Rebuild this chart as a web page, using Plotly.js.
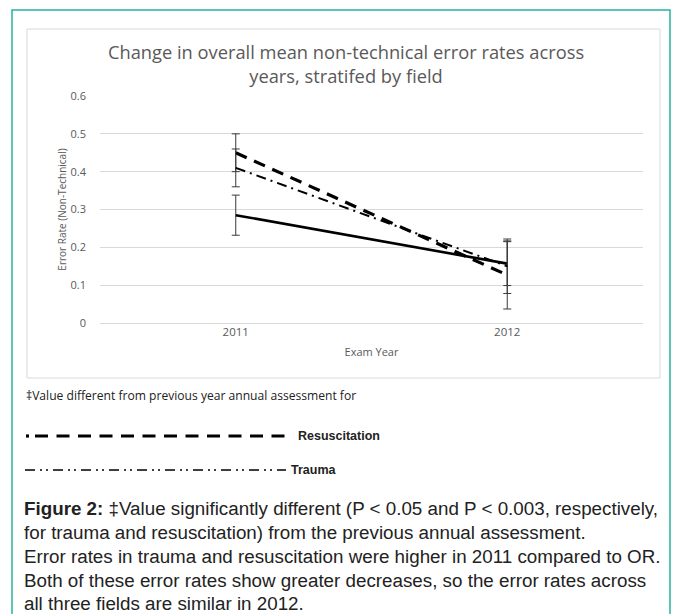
<!DOCTYPE html>
<html>
<head>
<meta charset="utf-8">
<script src="https://cdn.plot.ly/plotly-3.0.1.min.js"></script>
<style>
html,body{margin:0;padding:0;background:#fff;}
#chart{width:677px;height:614px;}
</style>
</head>
<body>
<div id="chart"></div>
<script>
// ---- data ----
const years = ["2011", "2012"];
const orRate = [0.285, 0.157];
const orErr = [0.053, 0.058];
const resusRate = [0.45, 0.127];
const resusErr = [0.05, 0.09];
const traumaRate = [0.41, 0.15];
const traumaErr = [0.05, 0.072];
const yTicks = [0, 0.1, 0.2, 0.3, 0.4, 0.5, 0.6];
const yTickText = ["0", "0.1", "0.2", "0.3", "0.4", "0.5", "0.6"];

const chartTitle = "Change in overall mean non-technical error rates across<br>years, stratifed by field";
const noteText = "‡Value different from previous year annual assessment for";
const captionLines = [
  "<b>Figure 2:</b> ‡Value significantly different (P &lt; 0.05 and P &lt; 0.003, respectively,",
  "for trauma and resuscitation) from the previous annual assessment.",
  "Error rates in trauma and resuscitation were higher in 2011 compared to OR.",
  "Both of these error rates show greater decreases, so the error rates across",
  "all three fields are similar in 2012."
];

// ---- layout geometry (pixels) ----
const W = 677, H = 614;
const L = 100, R = 643, T = 96, B = 323;
const px = p => (p - L) / (R - L);
const py = p => 1 - (p - T) / (B - T);

const errStyle = {type: 'data', visible: true, color: '#3a3a3a', thickness: 1, width: 4};

const traces = [
  {x: years, y: orRate, name: 'OR', type: 'scatter', mode: 'lines',
   line: {color: '#000', width: 2.6},
   error_y: Object.assign({array: orErr}, errStyle)},
  {x: years, y: resusRate, name: 'Resuscitation', type: 'scatter', mode: 'lines',
   line: {color: '#000', width: 3.2, dash: '12px,8px'},
   error_y: Object.assign({array: resusErr}, errStyle)},
  {x: years, y: traumaRate, name: 'Trauma', type: 'scatter', mode: 'lines',
   line: {color: '#000', width: 2, dash: '10px,5px,2px,5px'},
   error_y: Object.assign({array: traumaErr}, errStyle)}
];

const gray = '#595959';
const annotations = [
  {xref: 'x', yref: 'y', x: years[1], y: 0.252, text: '‡', showarrow: false,
   font: {family: 'DejaVu Sans', size: 9, color: '#333'}},
  {xref: 'paper', yref: 'paper', x: px(24), y: py(395), xanchor: 'left', yanchor: 'middle',
   text: noteText, showarrow: false, font: {family: 'Open Sans', size: 12.1, color: '#222'}},
  {xref: 'paper', yref: 'paper', x: px(296), y: py(436), xanchor: 'left', yanchor: 'middle',
   text: '<b>Resuscitation</b>', showarrow: false, font: {family: 'Liberation Sans', size: 12.5, color: '#222'}},
  {xref: 'paper', yref: 'paper', x: px(289), y: py(470), xanchor: 'left', yanchor: 'middle',
   text: '<b>Trauma</b>', showarrow: false, font: {family: 'Liberation Sans', size: 12.5, color: '#222'}}
];
const capY = [508, 532, 556, 580, 603];
captionLines.forEach((t, i) => {
  annotations.push({xref: 'paper', yref: 'paper', x: px(22), y: py(capY[i]), xanchor: 'left', yanchor: 'middle',
    text: t, showarrow: false, font: {family: 'Liberation Sans', size: 18.8, color: '#222'}});
});

const shapes = [
  // outer teal frame
  {type: 'rect', xref: 'paper', yref: 'paper', x0: px(12), x1: px(670), y0: py(620), y1: py(10),
   line: {color: '#27b39c', width: 1.5}, fillcolor: 'rgba(0,0,0,0)', layer: 'below'},
  // chart box
  {type: 'rect', xref: 'paper', yref: 'paper', x0: px(27), x1: px(660), y0: py(378), y1: py(29),
   line: {color: '#d9d9d9', width: 1}, fillcolor: 'rgba(0,0,0,0)', layer: 'below'},
  // legend line: resuscitation
  {type: 'line', xref: 'paper', yref: 'paper', x0: px(26), x1: px(29), y0: py(436), y1: py(436),
   line: {color: '#000', width: 3.2}},
  {type: 'line', xref: 'paper', yref: 'paper', x0: px(35), x1: px(291), y0: py(436), y1: py(436),
   line: {color: '#000', width: 3.2, dash: '13px,8.5px'}},
  // legend line: trauma
  {type: 'line', xref: 'paper', yref: 'paper', x0: px(25), x1: px(286), y0: py(470), y1: py(470),
   line: {color: '#000', width: 1.5, dash: '10px,5px,2px,4px,2px,5px'}}
];

const layout = {
  width: W, height: H,
  margin: {l: L, r: W - R, t: T, b: H - B, pad: 0},
  paper_bgcolor: '#fff', plot_bgcolor: '#fff',
  showlegend: false,
  title: {text: chartTitle, xref: 'paper', x: (346 - L) / (R - L), xanchor: 'center',
    yref: 'container', y: 1 - 59 / H, yanchor: 'middle',
    font: {family: 'Open Sans', size: 18.3, color: gray}},
  xaxis: {type: 'category', range: [-0.5, 1.5], showgrid: false, zeroline: false, showline: false,
    ticks: '', tickfont: {family: 'Open Sans', size: 11.5, color: gray}, fixedrange: true,
    title: {text: 'Exam Year', font: {family: 'Open Sans', size: 11, color: gray}, standoff: 10}},
  yaxis: {range: [0, 0.6], tickvals: yTicks, ticktext: yTickText, showgrid: true, gridcolor: '#d9d9d9',
    gridwidth: 1, zeroline: true, zerolinecolor: '#d9d9d9', zerolinewidth: 1, showline: false, ticks: '',
    ticklabelstandoff: 13, tickfont: {family: 'Open Sans', size: 11, color: gray}, fixedrange: true,
    title: {text: 'Error Rate (Non-Technical)', font: {family: 'Open Sans', size: 10, color: gray}, standoff: 2}},
  annotations: annotations,
  shapes: shapes
};

Plotly.newPlot('chart', traces, layout, {displayModeBar: false, staticPlot: true});
</script>
</body>
</html>
